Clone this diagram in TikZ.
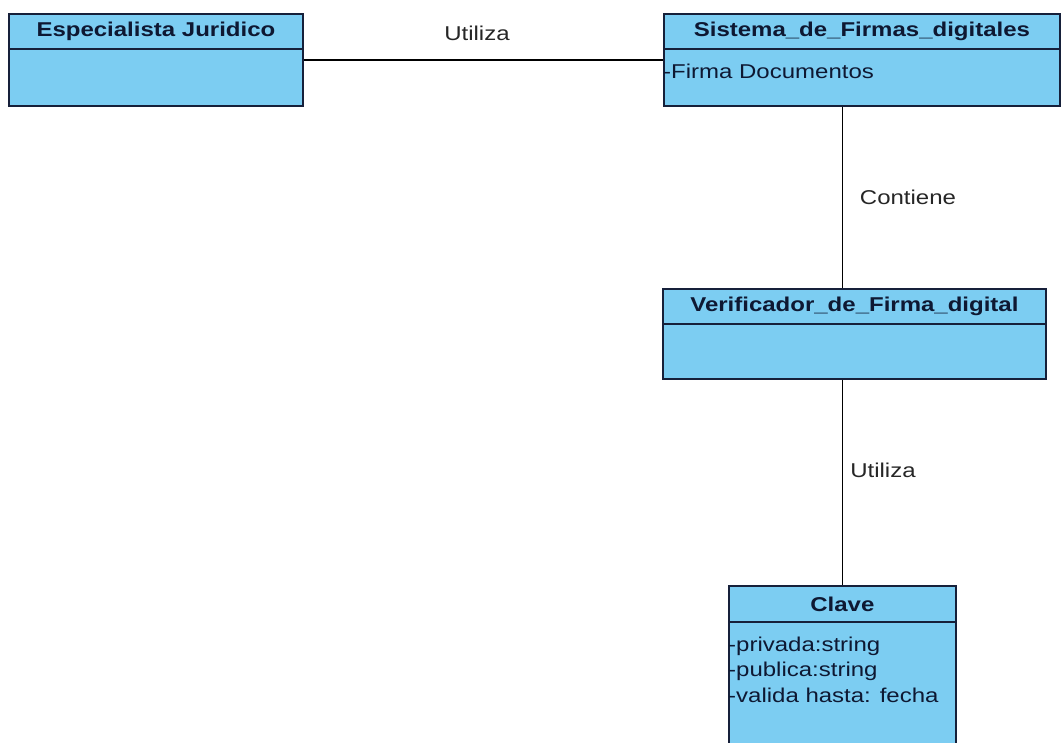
\documentclass[tikz,border=0pt]{standalone}
\usepackage{fontspec}
\setmainfont{Liberation Sans}[FakeStretch=1.2]
\definecolor{classfill}{RGB}{124,205,242}
\definecolor{classedge}{RGB}{22,32,58}
\definecolor{classtext}{RGB}{14,24,50}
\begin{document}
\begin{tikzpicture}[x=1pt,y=-1pt,
  classbox/.style={draw=classedge,fill=classfill,line width=1.8pt,inner sep=0pt,anchor=north west},
  classhead/.style={draw=classedge,fill=classfill,line width=1.8pt,inner sep=0pt,anchor=north,
    text=classtext,font=\fontsize{20}{24}\selectfont\bfseries},
  attr/.style={anchor=base west,inner sep=0pt,text=classtext,font=\fontsize{20}{24}\selectfont},
  assoc/.style={draw=black,line width=1.6pt},
  assoclabel/.style={inner sep=0pt,text=black!85,font=\fontsize{20}{24}\selectfont}]
\useasboundingbox[fill=white] (0,0) rectangle (1062,742);

% class boxes
\node[classbox,minimum width=294pt,minimum height=92pt] (esp) at (8,13) {};
\node[classhead,minimum width=294pt,minimum height=35pt] (esph) at (esp.north) {Especialista Juridico};

\node[classbox,minimum width=396pt,minimum height=92pt] (sis) at (663,13) {};
\node[classhead,minimum width=396pt,minimum height=35pt] (sish) at (sis.north) {Sistema\_de\_Firmas\_digitales};
\node[attr] (sisa) at (663,78) {-Firma Documentos};

\node[classbox,minimum width=383pt,minimum height=90pt] (ver) at (662,288) {};
\node[classhead,minimum width=383pt,minimum height=35pt] (verh) at (ver.north) {Verificador\_de\_Firma\_digital};

\node[classbox,minimum width=227pt,minimum height=180pt] (cla) at (728,585) {};
\node[classhead,minimum width=227pt,minimum height=36pt] (clah) at (cla.north) {Clave};
\node[attr] (cla1) at (728,651) {-privada:string};
\node[attr] (cla2) at (728,676) {-publica:string};
\node[attr] (cla3) at (728,702) {-valida hasta: fecha};

% associations
\draw[assoc] (esp.east) -- (sis.west);
\draw[assoc] (sis.south -| cla.north) -- (ver.north -| cla.north);
\draw[assoc] (ver.south -| cla.north) -- (cla.north);

% association labels
\node[assoclabel] (l1) at (477,33) {Utiliza};
\node[assoclabel] (l2) at (908,197) {Contiene};
\node[assoclabel] (l3) at (883,470) {Utiliza};
\end{tikzpicture}
\end{document}
